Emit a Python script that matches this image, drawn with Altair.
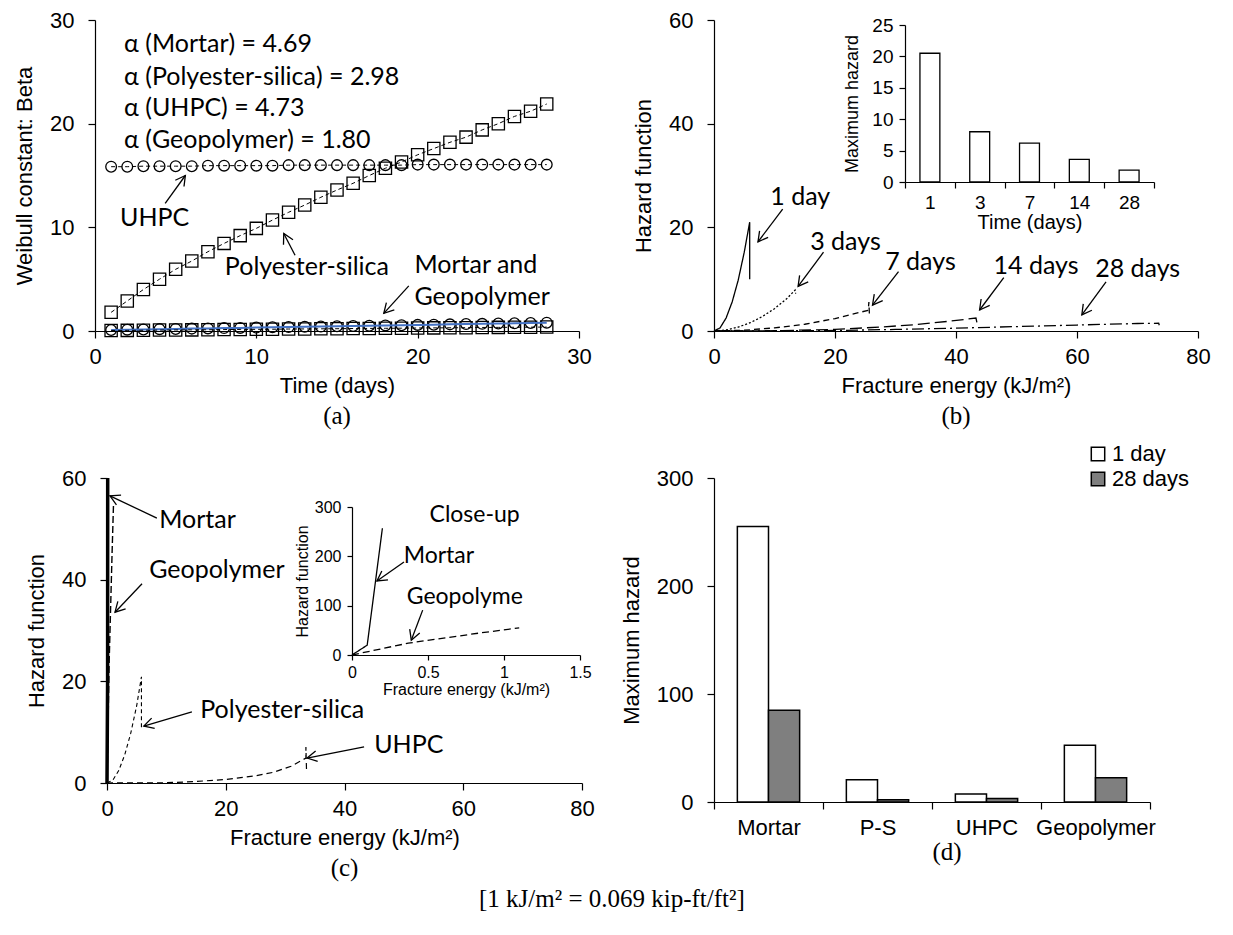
import math
import altair as alt
import pandas as pd

# ===================== DATA =====================
# (a) Weibull constant beta vs time
days = list(range(1, 29))
beta_polyester = [1.8, 2.9, 4.0, 5.0, 5.95, 6.75, 7.65, 8.45, 9.2, 9.9, 10.7, 11.45, 12.15, 12.9,
                  13.6, 14.25, 15.0, 15.7, 16.3, 17.0, 17.6, 18.2, 18.7, 19.4, 20.0, 20.7, 21.2, 21.9]
beta_uhpc = [15.85, 15.85, 15.9, 15.9, 15.9, 15.9, 15.95, 15.95, 15.95, 15.95, 15.95, 16.0, 16.0, 16.0,
             16.0, 16.0, 16.0, 16.0, 16.0, 16.05, 16.05, 16.05, 16.05, 16.05, 16.05, 16.05, 16.05, 16.05]
beta_mortar = [0.10, 0.13, 0.15, 0.18, 0.20, 0.23, 0.25, 0.28, 0.30, 0.33, 0.36, 0.38, 0.41, 0.43,
               0.46, 0.48, 0.51, 0.54, 0.56, 0.59, 0.61, 0.64, 0.67, 0.69, 0.72, 0.74, 0.77, 0.80]
beta_geopolymer = [0.05, 0.06, 0.07, 0.09, 0.10, 0.11, 0.12, 0.14, 0.15, 0.16, 0.17, 0.19, 0.20, 0.21,
                   0.22, 0.24, 0.25, 0.26, 0.27, 0.29, 0.30, 0.31, 0.32, 0.34, 0.35, 0.36, 0.37, 0.38]
alpha_text = ["α (Mortar) = 4.69", "α (Polyester-silica) = 2.98", "α (UHPC) = 4.73", "α (Geopolymer) = 1.80"]
alpha_x = [1.8, 1.8, 1.8, 1.8]
alpha_y = [27.7, 24.5, 21.5, 18.4]
a_note_text = ["UHPC", "Polyester-silica", "Mortar and", "Geopolymer"]
a_note_x = [1.55, 8.05, 19.8, 19.8]
a_note_y = [10.9, 6.2, 6.4, 3.3]
a_arrow_tail_x = [4.35, 12.4, 19.45]
a_arrow_tail_y = [12.3, 7.3, 4.35]
a_arrow_head_x = [5.6, 11.7, 17.9]
a_arrow_head_y = [15.0, 9.4, 1.7]

# (b) hazard function vs fracture energy at different ages
b_names = ["1 day", "3 days", "7 days", "14 days", "28 days"]
b1_x = [0, 1, 2, 3, 4, 5, 5.9, 5.9]
b1_y = [0, 0.6, 2.5, 5.6, 9.8, 15.2, 21.0, 10.0]
b3_x = [0, 2, 4, 6, 8, 10, 12, 13.4, 13.5]
b3_y = [0, 0.2, 0.75, 1.6, 2.8, 4.3, 6.2, 7.9, 7.2]
b7_x = [0, 5, 10, 15, 20, 25.5, 25.6, 25.7]
b7_y = [0, 0.15, 0.6, 1.3, 2.4, 4.0, 5.6, 2.8]
b14_x = [0, 10, 20, 28, 33, 39, 43.3, 43.6]
b14_y = [0, 0.05, 0.3, 0.8, 1.2, 1.9, 2.5, 0.8]
b28_x = [0, 20, 30, 40, 50, 60, 70, 73.5, 73.6]
b28_y = [0, 0.1, 0.3, 0.55, 0.85, 1.15, 1.45, 1.5, 1.1]
b_note_x = [9.3, 15.9, 28.3, 46.2, 63.0]
b_note_y = [25.9, 17.2, 13.4, 12.6, 11.9]
b_arrow_tail_x = [11.35, 18.1, 30.5, 47.9, 64.8]
b_arrow_tail_y = [23.5, 15.2, 11.45, 10.3, 9.5]
b_arrow_head_x = [7.27, 13.9, 26.2, 43.9, 60.8]
b_arrow_head_y = [17.2, 8.6, 5.0, 4.05, 3.1]
# (b) inset: maximum hazard by age
inset_b_days = ["1", "3", "7", "14", "28"]
inset_b_max = [20.5, 8.0, 6.2, 3.6, 1.9]

# (c) hazard function at 1 day for each material
c_names = ["Mortar", "Geopolymer", "Polyester-silica", "UHPC"]
c_mortar_x = [0, 0.1, 0.2]
c_mortar_y = [0, 20, 257]
c_geo_x = [0, 0.37, 0.85, 1.1]
c_geo_y = [0, 24, 45, 55]
c_ps_x = [0, 1, 2, 3, 4, 5, 5.8, 5.8]
c_ps_y = [0, 0.6, 2.5, 5.6, 9.8, 15.2, 20.9, 10.4]
c_uhpc_x = [0, 10, 15, 20, 25, 28, 31, 33.5, 33.5, 33.6]
c_uhpc_y = [0, 0.05, 0.3, 0.7, 1.4, 2.1, 3.3, 4.9, 7.1, 2.6]
c_note_x = [8.8, 7.1, 15.7, 45.0]
c_note_y = [51.7, 41.9, 14.3, 7.4]
c_arrow_tail_x = [8.4, 5.9, 14.3, 43.3]
c_arrow_tail_y = [52.1, 39.2, 14.0, 7.1]
c_arrow_head_x = [0.5, 1.35, 6.2, 33.7]
c_arrow_head_y = [56.5, 33.6, 11.2, 4.9]
inset_c_note_text = ["Close-up", "Mortar", "Geopolyme"]
inset_c_note_x = [0.51, 0.34, 0.36]
inset_c_note_y = [283, 200, 118]
inset_c_arrow_tail_x = [0.342, 0.465]
inset_c_arrow_tail_y = [188.5, 91]
inset_c_arrow_head_x = [0.164, 0.39]
inset_c_arrow_head_y = [150, 30]

# (d) maximum hazard at 1 and 28 days
materials = ["Mortar", "P-S", "UHPC", "Geopolymer"]
ages = ["1 day", "28 days"]
maxh_1day = [255, 20.5, 7.5, 52.5]
maxh_28days = [85, 2.0, 3.2, 22.5]

# ===================== STYLE =====================
SANS = "Liberation Sans"
SERIF = "Liberation Serif"
NOTE = "Lato"
NOTE_SIZE = 25
ARROW_HEAD = "M -0.55 1 L 0 0 L 0.55 1"

XAX = dict(orient="bottom", labelPadding=8, titlePadding=8)
YAX = dict(orient="left", labelPadding=14, titlePadding=13)


def qx(domain, values, title, rng=None, **kw):
    sc = dict(domain=domain, nice=False)
    if rng is not None:
        sc["range"] = rng
    ax = dict(XAX)
    ax.update(kw)

    def f(field):
        return alt.X(field + ":Q", scale=alt.Scale(**sc),
                     axis=alt.Axis(values=values, title=title, **ax))
    return f


def qy(domain, values, title, rng=None, **kw):
    sc = dict(domain=domain, nice=False)
    if rng is not None:
        sc["range"] = rng
    ax = dict(YAX)
    ax.update(kw)

    def f(field):
        return alt.Y(field + ":Q", scale=alt.Scale(**sc),
                     axis=alt.Axis(values=values, title=title, **ax))
    return f


def series_df(name, xs, ys):
    return pd.DataFrame({"s": name, "x": xs, "y": ys, "i": list(range(len(xs)))})


def series_line(df, X, Y, dash, width=1.3, clip=False):
    return alt.Chart(df).mark_line(color="black", strokeWidth=width, strokeDash=dash, clip=clip).encode(
        x=X("x"), y=Y("y"), order="i:Q")


def notes(texts, xs, ys, X, Y, size=NOTE_SIZE):
    df = pd.DataFrame({"t": texts, "x": xs, "y": ys})
    return alt.Chart(df).mark_text(align="left", baseline="middle", font=NOTE,
                                   fontSize=size, color="black").encode(
        x=X("x"), y=Y("y"), text="t:N")


def arrows(tx, ty, hx, hy, X, Y, sx, sy, width=1.3):
    ang = [math.degrees(math.atan2((b - a) * sx, (d - c) * sy)) % 360
           for a, b, c, d in zip(tx, hx, ty, hy)]
    df = pd.DataFrame({"x": tx, "y": ty, "x2": hx, "y2": hy, "ang": ang})
    shaft = alt.Chart(df).mark_rule(color="black", strokeWidth=width).encode(
        x=X("x"), y=Y("y"), x2="x2:Q", y2="y2:Q")
    head = alt.Chart(df).mark_point(shape=ARROW_HEAD, size=380, filled=False, color="black",
                                    strokeWidth=width, opacity=1).encode(
        x=X("x2"), y=Y("y2"), angle=alt.Angle("ang:Q", scale=None))
    return alt.layer(shaft, head)


def panel_title(t, offset, dx=0):
    return alt.TitleParams(text=t, orient="bottom", frame="group", anchor="middle", font=SERIF,
                           fontSize=25, fontWeight="normal", color="black", offset=offset, dx=dx)


# ===================== PANEL (a) =====================
WA, HA = 484, 311
xa = qx([0, 30], [0, 10, 20, 30], "Time (days)")
ya = qy([0, 30], [0, 10, 20, 30], "Weibull constant: Beta")

df_a_dash = pd.concat([series_df("Polyester-silica", days, beta_polyester),
                       series_df("UHPC", days, beta_uhpc),
                       series_df("Geopolymer", days, beta_geopolymer)])
df_a_mortar = series_df("Mortar", days, beta_mortar)
df_a_circ = pd.concat([series_df("UHPC", days, beta_uhpc), series_df("Mortar", days, beta_mortar)])
df_a_sq = pd.concat([series_df("Polyester-silica", days, beta_polyester),
                     series_df("Geopolymer", days, beta_geopolymer)])

a_circles = alt.Chart(df_a_circ).mark_point(shape="circle", size=115, filled=False, color="black",
                                            strokeWidth=1.3, opacity=1).encode(x=xa("x"), y=ya("y"))
a_squares = alt.Chart(df_a_sq).mark_point(shape="square", size=150, filled=False, color="black",
                                          strokeWidth=1.3, opacity=1).encode(x=xa("x"), y=ya("y"))
a_blue = alt.Chart(df_a_mortar).mark_line(color="#4472C4", strokeWidth=2).encode(
    x=xa("x"), y=ya("y"), order="i:Q")
a_dash = alt.Chart(df_a_dash).mark_line(color="black", strokeWidth=1, strokeDash=[4, 3]).encode(
    x=xa("x"), y=ya("y"), detail="s:N", order="i:Q")

panel_a = alt.layer(
    a_circles, a_squares, a_blue, a_dash,
    notes(alpha_text, alpha_x, alpha_y, xa, ya),
    notes(a_note_text, a_note_x, a_note_y, xa, ya),
    arrows(a_arrow_tail_x, a_arrow_tail_y, a_arrow_head_x, a_arrow_head_y, xa, ya, WA / 30, HA / 30),
).properties(width=WA, height=HA, title=panel_title("(a)", 8))

# ===================== PANEL (b) =====================
WB, HB = 484, 311
xb = qx([0, 80], [0, 20, 40, 60, 80], "Fracture energy (kJ/m²)")
yb = qy([0, 60], [0, 20, 40, 60], "Hazard function")
b_main = alt.layer(
    series_line(series_df(b_names[0], b1_x, b1_y), xb, yb, [1, 0]),
    series_line(series_df(b_names[1], b3_x, b3_y), xb, yb, [2, 2]),
    series_line(series_df(b_names[2], b7_x, b7_y), xb, yb, [6, 4]),
    series_line(series_df(b_names[3], b14_x, b14_y), xb, yb, [12, 5]),
    series_line(series_df(b_names[4], b28_x, b28_y), xb, yb, [12, 4, 2, 4]),
    notes(b_names, b_note_x, b_note_y, xb, yb),
    arrows(b_arrow_tail_x, b_arrow_tail_y, b_arrow_head_x, b_arrow_head_y, xb, yb, WB / 80, HB / 60),
)

df_ib = pd.DataFrame({"cat": inset_b_days, "val": inset_b_max})
b_inset = alt.Chart(df_ib).mark_bar(fill="white", stroke="black", strokeWidth=1.3,
                                    width=alt.RelativeBandSize(0.4)).encode(
    x=alt.X("cat:N", sort=inset_b_days,
            scale=alt.Scale(domain=inset_b_days, range=[191, 440], paddingInner=0, paddingOuter=0),
            axis=alt.Axis(orient="bottom", offset=-149, title="Time (days)", labelAngle=0,
                          tickBand="extent", labelFontSize=19, titleFontSize=20, tickSize=6,
                          labelPadding=5, titlePadding=0)),
    y=alt.Y("val:Q", scale=alt.Scale(domain=[0, 25], range=[162, 5], nice=False),
            axis=alt.Axis(orient="left", offset=-191, values=[0, 5, 10, 15, 20, 25],
                          title="Maximum hazard", labelFontSize=19, titleFontSize=18, tickSize=6,
                          labelPadding=6, titlePadding=10)),
)
panel_b = alt.layer(b_main, b_inset).resolve_scale(x="independent", y="independent").properties(
    width=WB, height=HB, title=panel_title("(b)", 8))

# ===================== PANEL (c) =====================
# the panel's cell starts 12 px left of its y-axis, so the scales leave that margin
WC, HC, CM = 487, 305, 12
xc = qx([0, 80], [0, 20, 40, 60, 80], "Fracture energy (kJ/m²)", rng=[CM, WC])
yc = qy([0, 60], [0, 20, 40, 60], "Hazard function", offset=-CM)
c_main = alt.layer(
    series_line(series_df(c_names[0], c_mortar_x, c_mortar_y), xc, yc, [1, 0], width=3.5, clip=True),
    series_line(series_df(c_names[1], c_geo_x, c_geo_y), xc, yc, [7, 3], width=1.4),
    series_line(series_df(c_names[2], c_ps_x, c_ps_y), xc, yc, [4, 3], width=1.1),
    series_line(series_df(c_names[3], c_uhpc_x, c_uhpc_y), xc, yc, [6, 4], width=1.2),
    notes(c_names, c_note_x, c_note_y, xc, yc),
    arrows(c_arrow_tail_x, c_arrow_tail_y, c_arrow_head_x, c_arrow_head_y, xc, yc,
           (WC - CM) / 80, HC / 60),
)

IXR, IYR = [257, 485], [177, 29]
xi = qx([0, 1.5], [0, 0.5, 1, 1.5], "Fracture energy (kJ/m²)", rng=IXR, offset=-(HC - IYR[0]),
        labelFontSize=16, titleFontSize=16, tickSize=5, labelPadding=4, titlePadding=1, format="~g")
yi = qy([0, 300], [0, 100, 200, 300], "Hazard function", rng=IYR, offset=-IXR[0],
        labelFontSize=16, titleFontSize=16, tickSize=5, labelPadding=6, titlePadding=4)
c_inset = alt.layer(
    series_line(series_df(c_names[0], c_mortar_x, c_mortar_y), xi, yi, [1, 0]),
    series_line(series_df(c_names[1], c_geo_x, c_geo_y), xi, yi, [7, 4]),
    notes(inset_c_note_text, inset_c_note_x, inset_c_note_y, xi, yi, size=23),
    arrows(inset_c_arrow_tail_x, inset_c_arrow_tail_y, inset_c_arrow_head_x, inset_c_arrow_head_y,
           xi, yi, (IXR[1] - IXR[0]) / 1.5, (IYR[0] - IYR[1]) / 300),
)
panel_c = alt.layer(c_main, c_inset).resolve_scale(x="independent", y="independent").properties(
    width=WC, height=HC, title=panel_title("(c)", 8, dx=6))

# ===================== PANEL (d) =====================
WD, HD = 436, 324
df_d = pd.DataFrame({"mat": materials * 2, "val": maxh_1day + maxh_28days,
                     "age": [ages[0]] * 4 + [ages[1]] * 4})
panel_d = alt.Chart(df_d).mark_bar(stroke="black", strokeWidth=1.5).encode(
    x=alt.X("mat:N", sort=materials, scale=alt.Scale(paddingInner=0, paddingOuter=0),
            axis=alt.Axis(title=None, labelAngle=0, tickBand="extent", orient="bottom", labelPadding=8)),
    xOffset=alt.XOffset("age:N", sort=ages, scale=alt.Scale(paddingInner=0, paddingOuter=0.75)),
    y=alt.Y("val:Q", scale=alt.Scale(domain=[0, 300], nice=False),
            axis=alt.Axis(values=[0, 100, 200, 300], title="Maximum hazard", **YAX)),
    fill=alt.Fill("age:N", scale=alt.Scale(domain=ages, range=["white", "#7f7f7f"]),
                  legend=alt.Legend(orient="none", legendX=992, legendY=423, title=None,
                                    symbolType="square", symbolSize=180, symbolStrokeColor="black",
                                    symbolStrokeWidth=1.5, labelFont=SANS, labelFontSize=22,
                                    labelColor="black", rowPadding=3, labelOffset=3)),
).properties(width=WD, height=HD, title=panel_title("(d)", 2, dx=15))

# ===================== LAYOUT =====================
chart = alt.concat(
    panel_a, panel_b, panel_c, panel_d, columns=2, bounds="flush", align="each",
    spacing={"row": 147, "column": 132},
).properties(
    title=alt.TitleParams(text="[1 kJ/m² = 0.069 kip-ft/ft²]", orient="bottom", anchor="middle",
                          font=SERIF, fontSize=25, fontWeight="normal", color="black", offset=6),
    padding={"left": 13, "top": 9, "right": 10, "bottom": 10},
    background="white",
).configure_view(stroke=None).configure_axis(
    grid=False, domainColor="black", domainWidth=1.2, tickColor="black", tickWidth=1.2, tickSize=7,
    labelColor="black", titleColor="black", labelFont=SANS, titleFont=SANS, labelFontSize=22,
    titleFontSize=22, titleFontWeight="normal", labelFlush=False, labelOverlap=False,
)

chart.save("out.html", embed_options={"renderer": "svg", "actions": False})
